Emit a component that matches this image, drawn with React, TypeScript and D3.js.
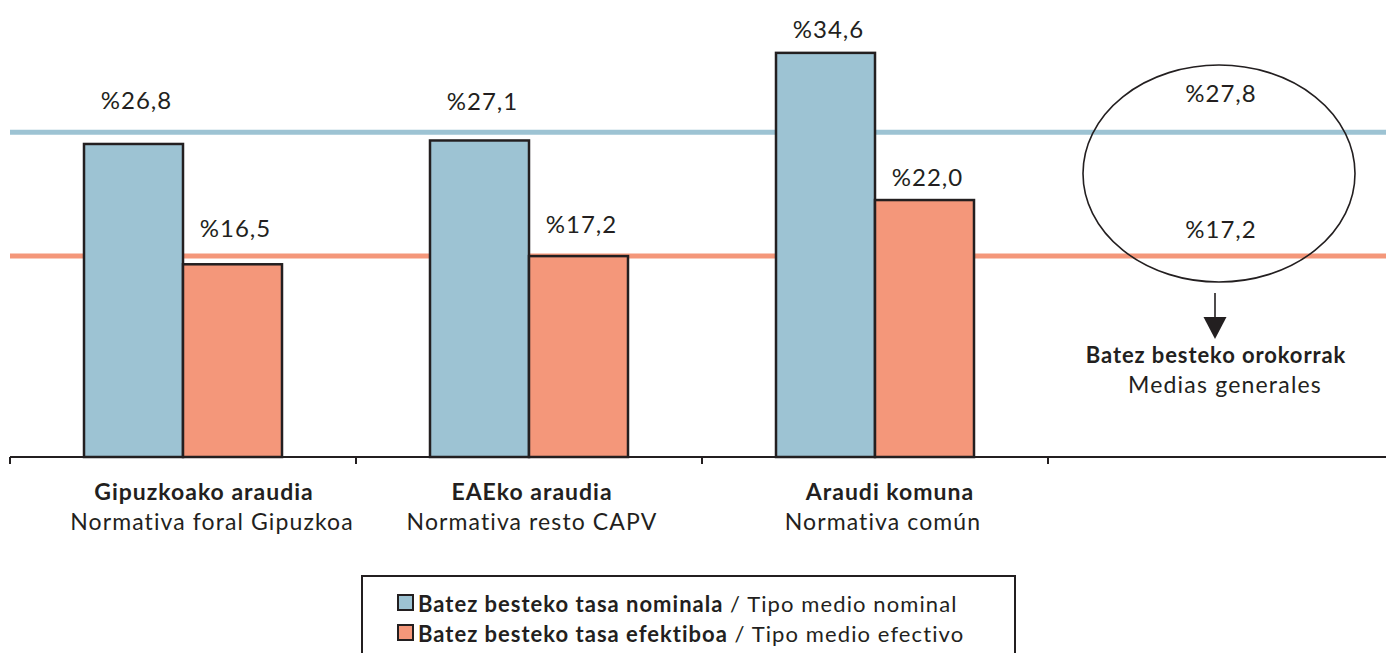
import React from "react";
import * as d3 from "d3";

const categoriesEu = ["Gipuzkoako araudia", "EAEko araudia", "Araudi komuna"];
const categoriesEs = ["Normativa foral Gipuzkoa", "Normativa resto CAPV", "Normativa común"];
const nominal = [26.8, 27.1, 34.6];
const effective = [16.5, 17.2, 22.0];
const avgNominal = 27.8;
const avgEffective = 17.2;
const seriesEu = ["Batez besteko tasa nominala", "Batez besteko tasa efektiboa"];
const seriesEs = ["Tipo medio nominal", "Tipo medio efectivo"];
const avgLabelEu = "Batez besteko orokorrak";
const avgLabelEs = "Medias generales";

// layout / style constants
const W = 1386;
const H = 653;
const BLUE = "#9DC3D3";
const ORANGE = "#F4977A";
const INK = "#231F20";
const FONT = "Lato, 'Open Sans', sans-serif";
const nomLabelGap = [35, 30, 15];
const effLabelGap = [27, 23, 14];
const euDx = [21, 3, 15];
const esDx = [29, 3, 8];

const fmt = (v: number) => "%" + v.toFixed(1).replace(".", ",");

export default function App() {
  const x = d3.scaleBand<string>().domain(["0", "1", "2", "3"]).range([10, 1394]).paddingInner(0).paddingOuter(0);
  const bw = x.bandwidth();
  const xs = d3.scaleBand<string>().domain(["nom", "eff"]).range([74, bw - 74]).padding(0);
  const y = d3.scaleLinear().domain([0, 40]).range([457, 457 - 40 * 11.68]);
  const avgCx = (x("3") as number) + bw / 2;

  const valueText = { textAnchor: "middle" as const, fontSize: 24, fontWeight: 400, letterSpacing: 1, fill: INK };

  return (
    <div style={{ position: "absolute", left: 0, top: 0, width: W, height: H, background: "#fff" }}>
      <svg width={W} height={H} style={{ display: "block" }} fontFamily={FONT}>
        <rect width={W} height={H} fill="#fff" />
        {/* average lines */}
        <line x1={10} x2={W} y1={y(avgNominal)} y2={y(avgNominal)} stroke={BLUE} strokeWidth={5} />
        <line x1={10} x2={W} y1={y(avgEffective)} y2={y(avgEffective)} stroke={ORANGE} strokeWidth={5} />

        {/* bars */}
        {nominal.map((v, i) => {
          const bx = (x(String(i)) as number) + (xs("nom") as number);
          return (
            <rect key={"n" + i} x={bx} y={y(v)} width={xs.bandwidth()} height={y(0) - y(v)}
              fill={BLUE} stroke={INK} strokeWidth={2.5} />
          );
        })}
        {effective.map((v, i) => {
          const bx = (x(String(i)) as number) + (xs("eff") as number);
          return (
            <rect key={"e" + i} x={bx} y={y(v)} width={xs.bandwidth()} height={y(0) - y(v)}
              fill={ORANGE} stroke={INK} strokeWidth={2.5} />
          );
        })}

        {/* value labels */}
        {nominal.map((v, i) => (
          <text key={"nl" + i} x={(x(String(i)) as number) + (xs("nom") as number) + xs.bandwidth() / 2 + 3}
            y={y(v) - nomLabelGap[i]} {...valueText}>
            {fmt(v)}
          </text>
        ))}
        {effective.map((v, i) => (
          <text key={"el" + i} x={(x(String(i)) as number) + (xs("eff") as number) + xs.bandwidth() / 2 + 3}
            y={y(v) - effLabelGap[i]} {...valueText}>
            {fmt(v)}
          </text>
        ))}

        {/* axis */}
        <line x1={10} x2={W} y1={y(0)} y2={y(0)} stroke={INK} strokeWidth={2} />
        {x.domain().map((d) => (
          <line key={"t" + d} x1={x(d) as number} x2={x(d) as number} y1={y(0)} y2={y(0) + 7} stroke={INK} strokeWidth={2} />
        ))}

        {/* category labels */}
        {categoriesEu.map((c, i) => (
          <text key={"ce" + i} x={(x(String(i)) as number) + bw / 2 + euDx[i]} y={500}
            textAnchor="middle" fontSize={23} fontWeight={700} letterSpacing={1} fill={INK}>{c}</text>
        ))}
        {categoriesEs.map((c, i) => (
          <text key={"cs" + i} x={(x(String(i)) as number) + bw / 2 + esDx[i]} y={530}
            textAnchor="middle" fontSize={23} fontWeight={400} letterSpacing={1.1} fill={INK}>{c}</text>
        ))}

        {/* averages annotation */}
        <ellipse cx={avgCx - 2} cy={173.5} rx={136} ry={108.5} fill="none" stroke={INK} strokeWidth={1.6} />
        <text x={avgCx} y={y(avgNominal) - 30} {...valueText}>{fmt(avgNominal)}</text>
        <text x={avgCx} y={y(avgEffective) - 18} {...valueText}>{fmt(avgEffective)}</text>
        <line x1={avgCx - 6} x2={avgCx - 6} y1={293} y2={318} stroke={INK} strokeWidth={1.6} />
        <path d={`M${avgCx - 17.5},317 L${avgCx + 5.5},317 L${avgCx - 6},339 Z`} fill={INK} />
        <text x={avgCx - 5} y={363} textAnchor="middle" fontSize={22} fontWeight={700} letterSpacing={0.9} fill={INK}>{avgLabelEu}</text>
        <text x={avgCx + 4} y={393} textAnchor="middle" fontSize={23} fontWeight={400} letterSpacing={1.2} fill={INK}>{avgLabelEs}</text>

        {/* legend */}
        <rect x={362} y={576} width={653} height={100} fill="#fff" stroke={INK} strokeWidth={2} />
        {[BLUE, ORANGE].map((c, i) => (
          <g key={"lg" + i}>
            <rect x={398} y={595 + i * 30} width={15} height={15} fill={c} stroke={INK} strokeWidth={2} />
            <text x={418} y={612 + i * 30} fontSize={22} fill={INK}>
              <tspan fontWeight={700} letterSpacing={1}>{seriesEu[i]}</tspan>
              <tspan fontWeight={400} letterSpacing={1.1}>{" / " + seriesEs[i]}</tspan>
            </text>
          </g>
        ))}
      </svg>
    </div>
  );
}
